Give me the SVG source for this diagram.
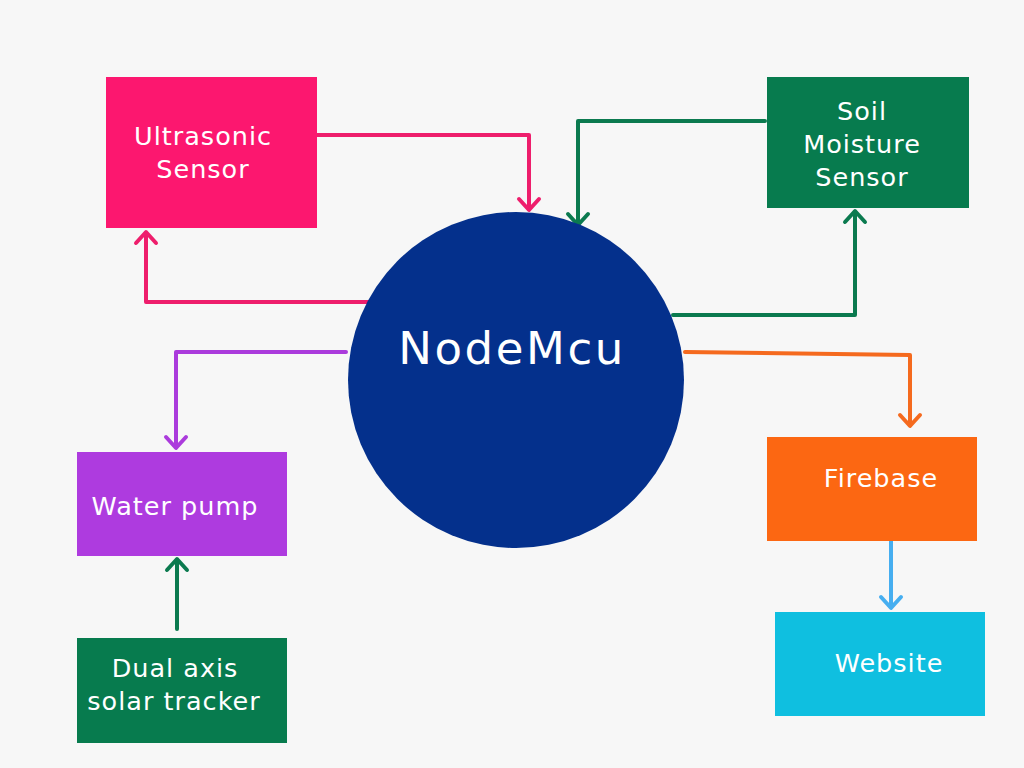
<svg xmlns="http://www.w3.org/2000/svg" width="1024" height="768" viewBox="0 0 1024 768">
<style>
.lbl{font-family:"DejaVu Sans","Liberation Sans",sans-serif;font-size:25.5px;letter-spacing:1px;fill:#ffffff;text-anchor:middle;}
.c{fill:none;stroke-width:4;stroke-linejoin:round;stroke-linecap:round;}
</style>
<rect width="1024" height="768" fill="#f7f7f7"/>
<g id="connectors">
  <path class="c" stroke="#ee1e6c" d="M317,135 H529 V209"/>
  <path class="c" stroke="#ee1e6c" d="M519,199 L529,210 L539,199"/>
  <path class="c" stroke="#ee1e6c" d="M372,302 H146 V234"/>
  <path class="c" stroke="#ee1e6c" d="M136,243 L146,232 L156,243"/>
  <path class="c" stroke="#0b7a4f" d="M765,121 H578 V224"/>
  <path class="c" stroke="#0b7a4f" d="M568,214 L578,225 L588,214"/>
  <path class="c" stroke="#0b7a4f" d="M673,315 H855 V212"/>
  <path class="c" stroke="#0b7a4f" d="M845,222 L855,211 L865,222"/>
  <path class="c" stroke="#ab3bdc" d="M346,352 H176 V447"/>
  <path class="c" stroke="#ab3bdc" d="M166,437 L176,448 L186,437"/>
  <path class="c" stroke="#0b7a4f" d="M177,629 V560"/>
  <path class="c" stroke="#0b7a4f" d="M167,570 L177,559 L187,570"/>
  <path class="c" stroke="#f56a1e" d="M685,352 L910,355 V425"/>
  <path class="c" stroke="#f56a1e" d="M900,415 L910,426 L920,415"/>
  <path class="c" stroke="#46aef0" d="M891,538 V606"/>
  <path class="c" stroke="#46aef0" d="M881,597 L891,608 L901,597"/>
</g>
<g id="nodemcu">
  <circle cx="516" cy="380" r="168" fill="#04308c"/>
  <text x="512" y="364" font-family="'DejaVu Sans','Liberation Sans',sans-serif" font-size="45" letter-spacing="2.6" fill="#ffffff" text-anchor="middle">NodeMcu</text>
</g>
<g id="ultrasonic">
  <rect x="106" y="77" width="211" height="151" fill="#fc176f"/>
  <text class="lbl" x="203" y="145">Ultrasonic</text>
  <text class="lbl" x="203" y="178">Sensor</text>
</g>
<g id="soil">
  <rect x="767" y="77" width="202" height="131" fill="#077b4e"/>
  <text class="lbl" x="862" y="120">Soil</text>
  <text class="lbl" x="862" y="153">Moisture</text>
  <text class="lbl" x="862" y="186">Sensor</text>
</g>
<g id="waterpump">
  <rect x="77" y="452" width="210" height="104" fill="#ae3bdf"/>
  <text class="lbl" x="175" y="515">Water pump</text>
</g>
<g id="solartracker">
  <rect x="77" y="638" width="210" height="105" fill="#077b4e"/>
  <text class="lbl" x="175" y="677">Dual axis</text>
  <text class="lbl" x="174" y="710">solar tracker</text>
</g>
<g id="firebase">
  <rect x="767" y="437" width="210" height="104" fill="#fc6712"/>
  <text class="lbl" x="881" y="487">Firebase</text>
</g>
<g id="website">
  <rect x="775" y="612" width="210" height="104" fill="#0fbfe0"/>
  <text class="lbl" x="889" y="672">Website</text>
</g>
</svg>
